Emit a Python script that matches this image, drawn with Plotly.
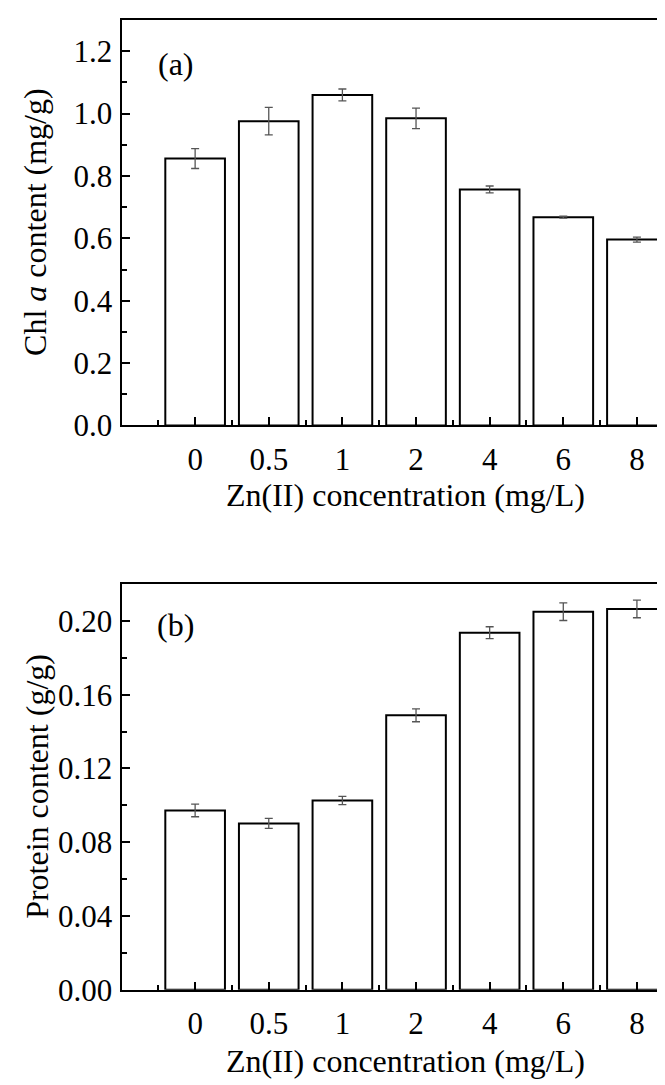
import plotly.graph_objects as go

categories = ["0", "0.5", "1", "2", "4", "6", "8"]
chl_values = [0.856, 0.976, 1.060, 0.985, 0.757, 0.668, 0.596]
chl_errors = [0.032, 0.044, 0.019, 0.033, 0.011, 0.003, 0.008]
protein_values = [0.0972, 0.0902, 0.1026, 0.1488, 0.1936, 0.2050, 0.2065]
protein_errors = [0.0034, 0.0027, 0.0022, 0.0035, 0.0032, 0.0048, 0.0048]

W, H = 665, 1085
FONT = "'Times New Roman', 'Liberation Serif', serif"
xpos = list(range(len(categories)))

fig = go.Figure()
bar_style = dict(marker=dict(color="white", line=dict(color="black", width=2)),
                 width=0.81, showlegend=False)
fig.add_trace(go.Bar(x=xpos, y=chl_values, xaxis="x", yaxis="y",
                     error_y=dict(type="data", array=chl_errors, color="#555555",
                                  thickness=1.3, width=4), **bar_style))
fig.add_trace(go.Bar(x=xpos, y=protein_values, xaxis="x2", yaxis="y2",
                     error_y=dict(type="data", array=protein_errors, color="#555555",
                                  thickness=1.3, width=4), **bar_style))

x0 = 113.5 / W
def ydom(top_px, bot_px):
    return [1 - bot_px / H, 1 - top_px / H]

xcommon = dict(range=[-1, 6.49], tickmode="array", tickvals=xpos, ticktext=categories,
               ticks="inside", ticklen=8, tickwidth=1.5, tickcolor="black",
               showline=True, linecolor="black", linewidth=2, mirror=True,
               showgrid=False, zeroline=False, domain=[x0, 1.0],
               tickfont=dict(family=FONT, size=31, color="black"),
               ticklabelstandoff=5,
               minor=dict(tickmode="linear", tick0=-0.5, dtick=1, ticks="inside",
                          ticklen=5, tickwidth=1.5, tickcolor="black"))
ycommon = dict(ticks="inside", ticklen=8, tickwidth=1.5, tickcolor="black",
               showline=True, linecolor="black", linewidth=2, mirror=False,
               showgrid=False, zeroline=False,
               tickfont=dict(family=FONT, size=31, color="black"),
               ticklabelstandoff=1)

fig.update_layout(
    width=W, height=H, margin=dict(l=0, r=0, t=0, b=0),
    paper_bgcolor="white", plot_bgcolor="white",
    font=dict(family=FONT, color="black"),
    bargap=0.19,
    xaxis=dict(anchor="y", **xcommon),
    yaxis=dict(anchor="x", domain=ydom(12.3, 424.5), range=[0, 1.3], dtick=0.2,
               tickformat=".1f",
               minor=dict(dtick=0.1, ticks="inside", ticklen=5, tickwidth=1.5, tickcolor="black"),
               **ycommon),
    xaxis2=dict(anchor="y2", **xcommon),
    yaxis2=dict(anchor="x2", domain=ydom(585.7, 998.3), range=[0, 0.22], dtick=0.04,
                tickformat=".2f",
                minor=dict(dtick=0.02, ticks="inside", ticklen=5, tickwidth=1.5, tickcolor="black"),
                **ycommon),
)

ann_font = dict(family=FONT, size=32, color="black")
anns = [
    dict(text="Chl <i>a</i> content (mg/g)", x=27.5 / W, y=1 - 218 / H, textangle=-90),
    dict(text="Protein content (g/g)", x=29 / W, y=1 - 792 / H, textangle=-90),
    dict(text="Zn(II) concentration (mg/L)", x=397 / W, y=1 - 495 / H),
    dict(text="Zn(II) concentration (mg/L)", x=397 / W, y=1 - 1071 / H),
    dict(text="(a)", x=148 / W, y=1 - 57 / H, xanchor="left"),
    dict(text="(b)", x=147 / W, y=1 - 627 / H, xanchor="left"),
]
for a in anns:
    base = dict(xref="paper", yref="paper", showarrow=False, font=ann_font,
                xanchor="center", yanchor="middle")
    base.update(a)
    fig.add_annotation(**base)

fig.write_html("out.html")
